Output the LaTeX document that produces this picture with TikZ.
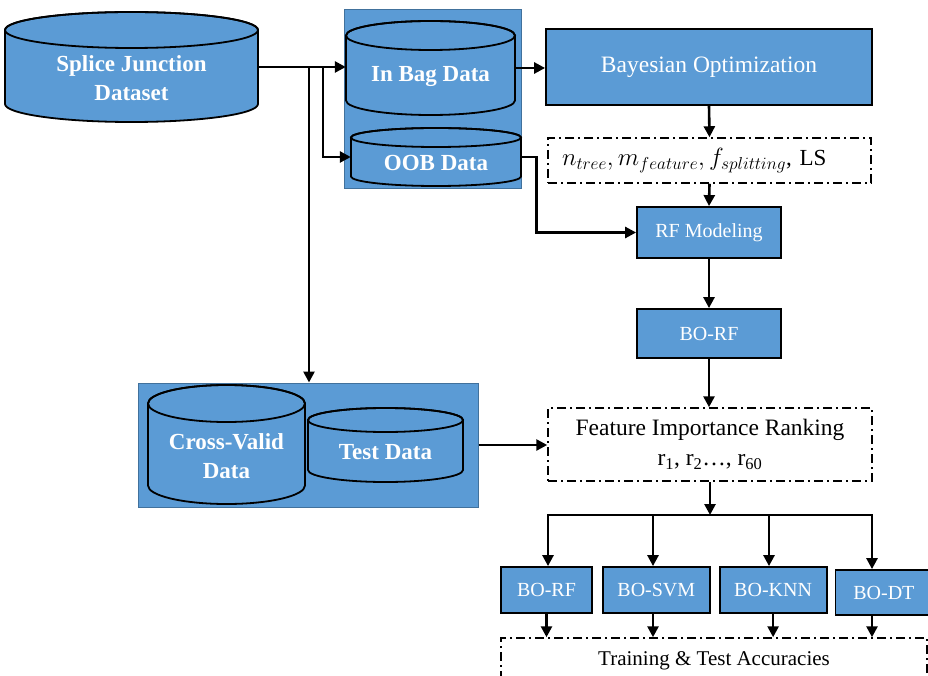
\documentclass[tikz,border=0pt]{standalone}
\usepackage{fontspec}
\setmainfont{Liberation Serif}
\usepackage{tikz}
\usetikzlibrary{positioning}
\usetikzlibrary{calc,arrows.meta}
\definecolor{boxblue}{HTML}{5B9BD5}
\definecolor{edgeblue}{HTML}{41719C}

\tikzset{
  arr/.style={line width=2.6pt,-{Triangle[length=11pt,width=11pt]}},
  cyl/.style={fill=boxblue,draw=black,line width=1.8pt},
  cont/.style={fill=boxblue,draw=edgeblue,line width=1pt,inner sep=0pt},
  dbnode/.style={inner sep=0pt},
  dbtext/.style={text=white,align=center,font=\fontsize{23}{29}\selectfont\bfseries},
  box/.style={fill=boxblue,draw=black,line width=1.8pt,text=white,inner sep=0pt},
  dashbox/.style={draw=black,line width=1.5pt,dash pattern=on 9pt off 4pt on 2pt off 4pt,inner sep=0pt}
}

\begin{document}
\begin{tikzpicture}[x=1pt,y=-1pt]
    \useasboundingbox (0,0) rectangle (928,676);
    \clip (0,0) rectangle (928,676);

    % blue frames behind the data stores
    \node[cont, minimum width=177pt, minimum height=179pt] (bagbox) at (432.5,99.5) {};
    \node[cont, minimum width=340pt, minimum height=124pt] (cvbox) at (308,445) {};

    % data stores
    \filldraw[cyl] (5,30) -- (5,104) arc[start angle=180,end angle=360,x radius=126.5pt,y radius=18pt]
        -- (258,30) arc[start angle=0,end angle=180,x radius=126.5pt,y radius=18pt] -- cycle;
    \draw[cyl, fill=none] (131.5,30) ellipse (126.5pt and 18pt);

    \filldraw[cyl] (346,35.5) -- (346,100.5) arc[start angle=180,end angle=360,x radius=84.5pt,y radius=14.5pt]
        -- (515,35.5) arc[start angle=0,end angle=180,x radius=84.5pt,y radius=14.5pt] -- cycle;
    \draw[cyl, fill=none] (430.5,35.5) ellipse (84.5pt and 14.5pt);

    \filldraw[cyl] (351,137.5) -- (351,176.5) arc[start angle=180,end angle=360,x radius=85pt,y radius=9.5pt]
        -- (521,137.5) arc[start angle=0,end angle=180,x radius=85pt,y radius=9.5pt] -- cycle;
    \draw[cyl, fill=none] (436,137.5) ellipse (85pt and 9.5pt);

    \filldraw[cyl] (148,403.5) -- (148,485.5) arc[start angle=180,end angle=360,x radius=78.5pt,y radius=18.5pt]
        -- (305,403.5) arc[start angle=0,end angle=180,x radius=78.5pt,y radius=18.5pt] -- cycle;
    \draw[cyl, fill=none] (226.5,403.5) ellipse (78.5pt and 18.5pt);

    \filldraw[cyl] (308,420) -- (308,470) arc[start angle=180,end angle=360,x radius=77.5pt,y radius=12pt]
        -- (463,420) arc[start angle=0,end angle=180,x radius=77.5pt,y radius=12pt] -- cycle;
    \draw[cyl, fill=none] (385.5,420) ellipse (77.5pt and 12pt);

    \node[dbnode, minimum width=253pt, minimum height=110pt] (splice) at (131.5,67) {};
    \node[dbnode, minimum width=169pt, minimum height=94pt] (inbag) at (430.5,68) {};
    \node[dbnode, minimum width=170pt, minimum height=58pt] (oob) at (436,157) {};
    \node[dbnode, minimum width=157pt, minimum height=119pt] (cv) at (226.5,444.5) {};
    \node[dbnode, minimum width=155pt, minimum height=74pt] (test) at (385.5,445) {};

    \node[dbtext] (splicetxt) at (131.5,78) {Splice Junction\\Dataset};
    \node[dbtext] (inbagtxt) at (430.5,77) {In Bag Data};
    \node[dbtext] (oobtxt) at (436,163) {OOB Data};
    \node[dbtext] (cvtxt) at (226.5,456) {Cross-Valid\\Data};
    \node[dbtext] (testtxt) at (385.5,452) {Test Data};

    % right column
    \node[box, minimum width=326pt, minimum height=76pt, font=\fontsize{23.5}{28}\selectfont] (bayes) at (709,67) {Bayesian Optimization};
    \node[dashbox, minimum width=323pt, minimum height=45pt, text width=295pt, align=left, font=\fontsize{23}{28}\selectfont] (param) at (709.5,160.5)
        {$n_{tree}, m_{feature}, f_{splitting}$, LS};
    \node[box, minimum width=144pt, minimum height=51pt, font=\fontsize{20}{24}\selectfont] (rf) at (709,232.5) {RF Modeling};
    \node[box, minimum width=144pt, minimum height=49pt, font=\fontsize{20}{24}\selectfont] (borf) at (709,333.5) {BO-RF};
    \node[dashbox, minimum width=324pt, minimum height=73pt, align=center, font=\fontsize{23.5}{30}\selectfont] (feat) at (710,444.5)
        {Feature Importance Ranking\\r\textsubscript{1}, r\textsubscript{2}\ldots, r\textsubscript{60}};

    % classifiers
    \node[box, minimum width=91pt, minimum height=46pt, font=\fontsize{20}{24}\selectfont] (bo1) at (546.5,590) {BO-RF};
    \node[box, minimum width=107pt, minimum height=46pt, font=\fontsize{20}{24}\selectfont] (bo2) [right=9pt of bo1] {BO-SVM};
    \node[box, minimum width=107pt, minimum height=46pt, font=\fontsize{20}{24}\selectfont] (bo3) [right=8pt of bo2] {BO-KNN};
    \node[box, minimum width=97pt, minimum height=45pt, font=\fontsize{20}{24}\selectfont] (bo4) [right=7pt of bo3, yshift=-2.5pt] {BO-DT};

    \node[dashbox, minimum width=426pt, minimum height=46pt, font=\fontsize{21}{25}\selectfont] (train) at (714,661) {Training \& Test Accuracies};

    % connectors
    \coordinate (j1) at (309,67);
    \coordinate (j2) at (323,67);
    \draw[arr] (splice.east) -- (splice.east -| inbag.west);
    \draw[arr] (j1) -- (j1 |- cvbox.north);
    \draw[arr] (j2) |- (oob.west);
    \draw[arr] (inbag.east) -- (inbag.east -| bayes.west);
    \draw[arr] (bayes.south) -- (param.north);
    \draw[arr] (param.south) -- (rf.north);
    \draw[arr] (oob.east) -- ++(15,0) |- (rf.west);
    \draw[arr] (rf) -- (borf);
    \draw[arr] (borf.south) -- (borf.south |- feat.north);
    \draw[arr] (cvbox.east) -- (cvbox.east -| feat.west);

    \coordinate (br) at (710,515);
    \coordinate (br1) at (548,515);
    \coordinate (br2) at (653,515);
    \coordinate (br3) at (769,515);
    \coordinate (br4) at (872,515);
    \draw[arr] (feat.south) -- (br);
    \draw[arr] (br4) -- (br1) -- (br1 |- bo1.north);
    \draw[arr] (br1) -- (br4) -- (br4 |- bo4.north);
    \draw[arr] (br2) -- (br2 |- bo2.north);
    \draw[arr] (br3) -- (br3 |- bo3.north);

    \draw[arr] (bo1.south) -- (bo1.south |- train.north);
    \draw[arr] (bo2.south -| br2) -- (br2 |- train.north);
    \draw[arr] (bo3.south) -- (bo3.south |- train.north);
    \draw[arr] (bo4.south -| br4) -- (br4 |- train.north);
\end{tikzpicture}
\end{document}
